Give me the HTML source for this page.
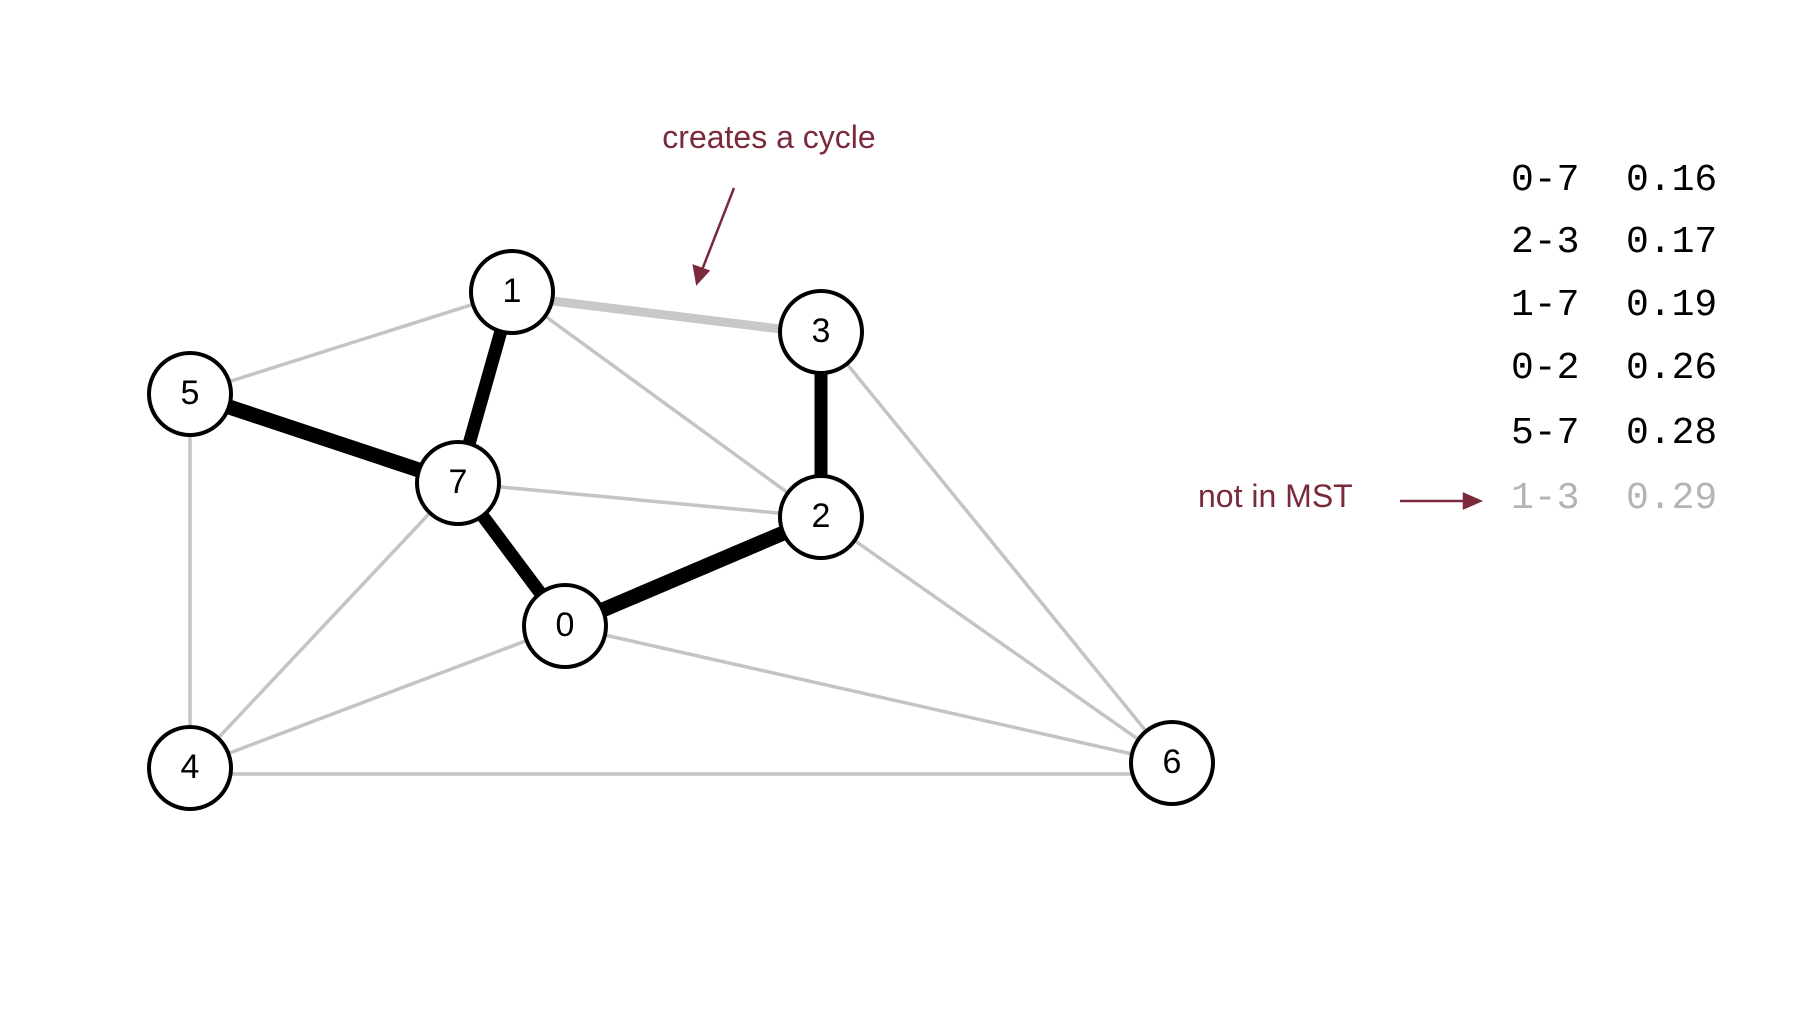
<!DOCTYPE html>
<html><head><style>body{margin:0;background:#fff}svg{display:block}</style></head><body>
<svg width="1810" height="1016" xmlns="http://www.w3.org/2000/svg">
<g stroke="#c4c4c4" stroke-width="3.5">
<line x1="512" y1="292" x2="190" y2="394"/>
<line x1="512" y1="292" x2="821" y2="517"/>
<line x1="458" y1="483" x2="821" y2="517"/>
<line x1="458" y1="483" x2="190" y2="768"/>
<line x1="190" y1="394" x2="190" y2="768"/>
<line x1="565" y1="626" x2="190" y2="768"/>
<line x1="190" y1="774" x2="1172" y2="774"/>
<line x1="565" y1="626" x2="1172" y2="763"/>
<line x1="821" y1="517" x2="1172" y2="763"/>
<line x1="821" y1="332" x2="1172" y2="763"/>
</g>
<line x1="512" y1="296" x2="821" y2="334" stroke="#c8c8c8" stroke-width="9"/>
<g stroke="#000">
<line x1="821" y1="332" x2="821" y2="517" stroke-width="13"/>
<line x1="512" y1="292" x2="458" y2="483" stroke-width="13"/>
<line x1="190" y1="394" x2="458" y2="483" stroke-width="15"/>
<line x1="458" y1="483" x2="565" y2="626" stroke-width="13"/>
<line x1="565" y1="626" x2="821" y2="517" stroke-width="15"/>
</g>
<g fill="#fff" stroke="#000" stroke-width="4">
<circle cx="512" cy="292" r="41"/><circle cx="821" cy="332" r="41"/>
<circle cx="190" cy="394" r="41"/><circle cx="458" cy="483" r="41"/>
<circle cx="821" cy="517" r="41"/><circle cx="565" cy="626" r="41"/>
<circle cx="190" cy="768" r="41"/><circle cx="1172" cy="763" r="41"/>
</g>
<g font-family="Liberation Sans, sans-serif" font-size="34" text-anchor="middle" fill="#000">
<text x="512" y="302">1</text><text x="821" y="342">3</text>
<text x="190" y="404">5</text><text x="458" y="493">7</text>
<text x="821" y="527">2</text><text x="565" y="636">0</text>
<text x="190" y="778">4</text><text x="1172" y="773">6</text>
</g>
<g fill="#7a2a3a" font-family="Liberation Sans, sans-serif" font-size="32">
<text x="769" y="148" text-anchor="middle">creates a cycle</text>
<text x="1198" y="507">not in MST</text>
</g>
<g stroke="#7a2a3a" stroke-width="2.5" fill="#7a2a3a">
<line x1="734" y1="188" x2="702" y2="270"/>
<polygon points="697,283 694,266 708,271"/>
<line x1="1400" y1="501" x2="1466" y2="501"/>
<polygon points="1480,501 1464,494 1464,508"/>
</g>
<g font-family="Liberation Mono, monospace" font-size="38" fill="#000">
<text x="1511" y="190">0-7</text><text x="1626" y="190">0.16</text>
<text x="1511" y="252">2-3</text><text x="1626" y="252">0.17</text>
<text x="1511" y="315">1-7</text><text x="1626" y="315">0.19</text>
<text x="1511" y="378">0-2</text><text x="1626" y="378">0.26</text>
<text x="1511" y="443">5-7</text><text x="1626" y="443">0.28</text>
<text x="1511" y="508" fill="#b4b4b4">1-3</text><text x="1626" y="508" fill="#b4b4b4">0.29</text>
</g>
</svg>
</body></html>
